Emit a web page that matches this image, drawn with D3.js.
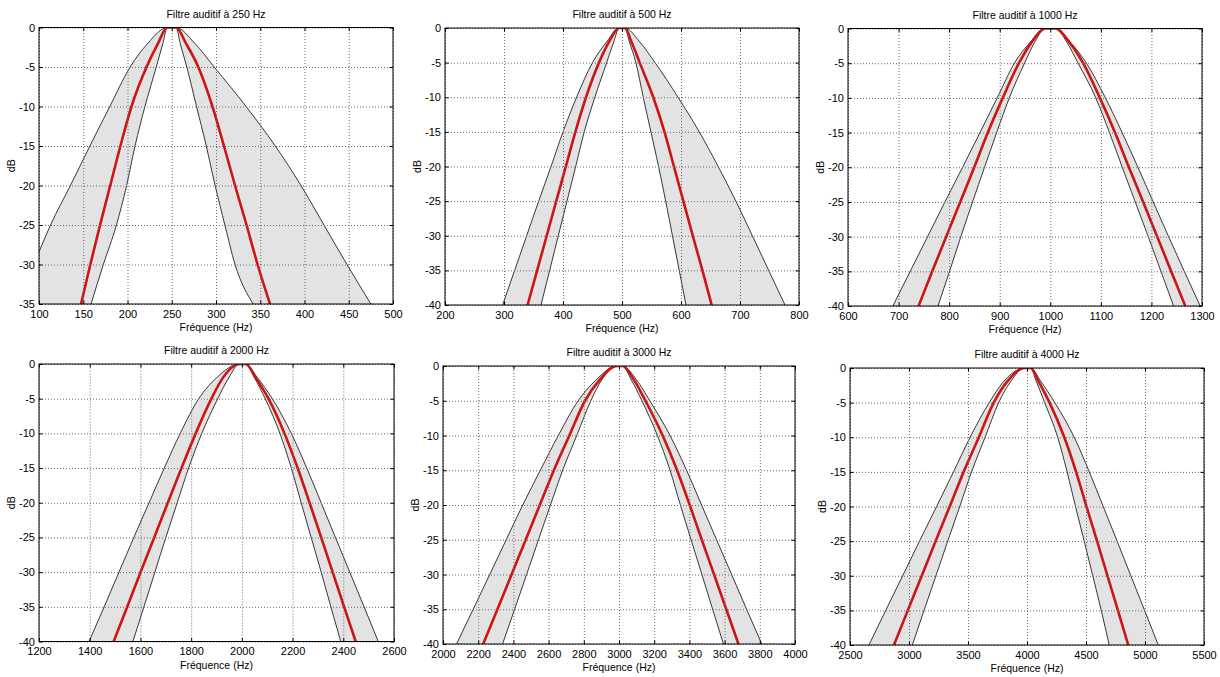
<!DOCTYPE html>
<html><head><meta charset="utf-8">
<script src="https://cdn.jsdelivr.net/npm/d3@7"></script>
<style>
body{margin:0;background:#fff}
svg{display:block}
text{font-family:"Liberation Sans",Arial,Helvetica,sans-serif;fill:#000}
</style>
</head><body>
<svg id="chart" width="1220" height="677"></svg>
<script>
// ---------------- DATA ----------------
const centerFreqs = [250, 500, 1000, 2000, 3000, 4000];
const titles = centerFreqs.map(c => "Filtre auditif à " + c + " Hz");
const xLabel = "Fréquence (Hz)";
const yLabel = "dB";

const xDomains = [[100, 500], [200, 800], [600, 1300], [1200, 2600], [2000, 4000], [2500, 5500]];
const yDomains = [[-35, 0], [-40, 0], [-40, 0], [-40, 0], [-40, 0], [-40, 0]];

const xTicks = [
  [100, 150, 200, 250, 300, 350, 400, 450, 500],
  [200, 300, 400, 500, 600, 700, 800],
  [600, 700, 800, 900, 1000, 1100, 1200, 1300],
  [1200, 1400, 1600, 1800, 2000, 2200, 2400, 2600],
  [2000, 2200, 2400, 2600, 2800, 3000, 3200, 3400, 3600, 3800, 4000],
  [2500, 3000, 3500, 4000, 4500, 5000, 5500]
];
const yTicks35 = [-35, -30, -25, -20, -15, -10, -5, 0];
const yTicks40 = [-40, -35, -30, -25, -20, -15, -10, -5, 0];

// [frequency Hz, level dB]
const outer250 = [[100,-28.4],[113,-25],[135.5,-20],[157.5,-15],[180,-10],[203,-5],[223,-2],[245,0],[255,0],[276,-2],[298,-5],[334,-10],[367,-15],[396,-20],[422,-25],[448,-30],[475,-35]];
const center250 = [[147.5,-35],[158,-30],[169,-25],[180.5,-20],[192,-15],[204.5,-10],[221.5,-5],[234.5,-2],[245,0],[255,0],[266,-2],[280,-5],[296,-10],[309,-15],[321.5,-20],[334.5,-25],[347,-30],[361,-35]];
const inner250 = [[158.8,-35],[172.7,-30],[187.5,-25],[199,-20],[208.5,-15],[219.7,-10],[232.5,-5],[240,-2],[245,0],[255,0],[259.5,-2],[267,-5],[278,-10],[289,-15],[299,-20],[310,-25],[321.5,-30],[342,-35]];

const outer500 = [[297.7,-40],[318,-35],[338.4,-30],[358.8,-25],[379.7,-20],[400,-15],[423,-10],[450,-5],[474,-2],[495,0],[505,0],[530,-2],[556,-5],[595,-10],[631,-15],[663,-20],[693,-25],[721,-30],[748.6,-35],[776.3,-40]];
const center500 = [[340,-40],[356.2,-35],[372.4,-30],[388.6,-25],[404.8,-20],[421,-15],[439,-10],[461,-5],[478,-2],[495,0],[505,0],[516,-2],[530,-5],[553,-10],[572,-15],[588,-20],[604,-25],[620,-30],[636.3,-35],[652,-40]];
const inner500 = [[362.7,-40],[377.4,-35],[392,-30],[406.8,-25],[421.5,-20],[436,-15],[454,-10],[474,-5],[486,-2],[495,0],[505,0],[512.5,-2],[523.5,-5],[536,-10],[549,-15],[562,-20],[574,-25],[585.5,-30],[597,-35],[608.5,-40]];

const outer1000 = [[688.8,-40],[723,-35],[757.3,-30],[791.6,-25],[826.6,-20],[861,-15],[895,-10],[929,-5],[960,-2],[990,0],[1010,0],[1040,-2],[1071.5,-5],[1109,-10],[1142,-15],[1173.3,-20],[1203.6,-25],[1234,-30],[1265,-35],[1296.5,-40]];
const center1000 = [[739.5,-40],[766.6,-35],[794.2,-30],[821.9,-25],[849.6,-20],[876.5,-15],[906,-10],[938,-5],[963,-2],[990,0],[1010,0],[1038,-2],[1065,-5],[1098,-10],[1128,-15],[1155.4,-20],[1183.7,-25],[1211.4,-30],[1239,-35],[1266.9,-40]];
const inner1000 = [[777.9,-40],[800.8,-35],[823.2,-30],[846.3,-25],[870,-20],[894,-15],[919,-10],[949,-5],[969,-2],[990,0],[1010,0],[1033,-2],[1055,-5],[1090,-10],[1117,-15],[1142.3,-20],[1168,-25],[1193.7,-30],[1218.8,-35],[1243.8,-40]];

const outer2000 = [[1397.4,-40],[1457,-35],[1515.4,-30],[1574,-25],[1634,-20],[1694,-15],[1757,-10],[1830,-5],[1900,-2],[1990,0],[2015,0],[2062,-2],[2120,-5],[2195,-10],[2256,-15],[2312.8,-20],[2369,-25],[2425.6,-30],[2482,-35],[2538,-40]];
const center2000 = [[1494.4,-40],[1548,-35],[1600.7,-30],[1654.4,-25],[1708,-20],[1762,-15],[1818,-10],[1880,-5],[1925,-2],[1990,0],[2015,0],[2055,-2],[2105,-5],[2168,-10],[2220,-15],[2267,-20],[2312.8,-25],[2358,-30],[2403.3,-35],[2449,-40]];
const inner2000 = [[1570.5,-40],[1613.8,-35],[1657,-30],[1700.3,-25],[1745,-20],[1790,-15],[1842,-10],[1905,-5],[1948,-2],[1990,0],[2015,0],[2050,-2],[2092,-5],[2150,-10],[2195,-15],[2234,-20],[2273.4,-25],[2312.8,-30],[2351,-35],[2390,-40]];

const outer3000 = [[2076.8,-40],[2171.6,-35],[2265.6,-30],[2359,-25],[2453,-20],[2553,-15],[2655,-10],[2768,-5],[2870,-2],[2985,0],[3020,0],[3100,-2],[3175,-5],[3290,-10],[3384,-15],[3469.2,-20],[3554.5,-25],[3640,-30],[3725,-35],[3811.4,-40]];
const center3000 = [[2228.4,-40],[2309.4,-35],[2389.6,-30],[2470,-25],[2550,-20],[2630,-15],[2718,-10],[2807,-5],[2890,-2],[2985,0],[3020,0],[3085,-2],[3150,-5],[3248,-10],[3330,-15],[3401.9,-20],[3470.3,-25],[3540,-30],[3609.5,-35],[3678.7,-40]];
const inner3000 = [[2338.4,-40],[2407,-35],[2474.9,-30],[2542.6,-25],[2610.4,-20],[2680,-15],[2760,-10],[2840,-5],[2902,-2],[2985,0],[3020,0],[3070,-2],[3130,-5],[3218,-10],[3290,-15],[3348.8,-20],[3409.5,-25],[3471,-30],[3532,-35],[3593.4,-40]];

const outer4000 = [[2660.6,-40],[2802.9,-35],[2946.3,-30],[3088.8,-25],[3233.6,-20],[3377,-15],[3518,-10],[3680,-5],[3800,-2],[3980,0],[4030,0],[4120,-2],[4236,-5],[4400,-10],[4528,-15],[4646,-20],[4763.8,-25],[4879.8,-30],[4996.6,-35],[5112.5,-40]];
const center4000 = [[2872.7,-40],[2990,-35],[3108.3,-30],[3225.4,-25],[3345,-20],[3463,-15],[3592,-10],[3718,-5],[3830,-2],[3980,0],[4030,0],[4100,-2],[4191,-5],[4316,-10],[4416,-15],[4504,-20],[4594,-25],[4681.9,-30],[4770.4,-35],[4858,-40]];
const inner4000 = [[3028.3,-40],[3127.3,-35],[3228.5,-30],[3328,-25],[3430,-20],[3530,-15],[3645,-10],[3760,-5],[3860,-2],[3980,0],[4030,0],[4080,-2],[4150,-5],[4260,-10],[4340,-15],[4411,-20],[4485,-25],[4557.4,-30],[4629,-35],[4696.8,-40]];

const outerCurves = [outer250, outer500, outer1000, outer2000, outer3000, outer4000];
const centerCurves = [center250, center500, center1000, center2000, center3000, center4000];
const innerCurves = [inner250, inner500, inner1000, inner2000, inner3000, inner4000];

// ---------------- LAYOUT ----------------
const boxes = [
  {l: 39, r: 393, t: 27.5, b: 304},
  {l: 445, r: 799, t: 28, b: 305},
  {l: 848, r: 1202, t: 28.5, b: 306},
  {l: 39, r: 394, t: 364, b: 641.5},
  {l: 443, r: 795, t: 366, b: 644},
  {l: 850, r: 1204, t: 368, b: 645}
];
const FILL = "#e3e3e3", RED = "#cc1515", GRID = "#6a6a6a";

const svg = d3.select("#chart");
svg.append("rect").attr("width", 1220).attr("height", 677).attr("fill", "#fff");

boxes.forEach((bx, i) => {
  const x = d3.scaleLinear().domain(xDomains[i]).range([bx.l, bx.r]);
  const y = d3.scaleLinear().domain(yDomains[i]).range([bx.b, bx.t]);
  const yMin = yDomains[i][0];
  const yT = yMin === -35 ? yTicks35 : yTicks40;
  const w = bx.r - bx.l, h = bx.b - bx.t;
  const g = svg.append("g");
  const cid = "clip" + i;
  g.append("clipPath").attr("id", cid).append("rect")
    .attr("x", bx.l).attr("y", bx.t).attr("width", w).attr("height", h);
  const plot = g.append("g").attr("clip-path", "url(#" + cid + ")");

  const area = d3.area().x(d => x(d[0])).y0(y(yMin)).y1(d => y(d[1])).curve(d3.curveMonotoneX);
  const line = d3.line().x(d => x(d[0])).y(d => y(d[1])).curve(d3.curveMonotoneX);

  plot.append("path").attr("d", area(outerCurves[i])).attr("fill", FILL);
  plot.append("path").attr("d", area(innerCurves[i])).attr("fill", "#fff");

  // grid
  const gx = g.append("g").attr("transform", `translate(0,${bx.b})`)
    .call(d3.axisBottom(x).tickValues(xTicks[i]).tickSize(-h).tickFormat(""));
  const gy = g.append("g").attr("transform", `translate(${bx.l},0)`)
    .call(d3.axisLeft(y).tickValues(yT).tickSize(-w).tickFormat(""));
  [gx, gy].forEach(a => {
    a.select(".domain").remove();
    a.selectAll("line").attr("stroke", GRID).attr("stroke-dasharray", "1,2").attr("stroke-width", 1);
  });

  plot.append("path").attr("d", line(outerCurves[i])).attr("fill", "none").attr("stroke", "#222").attr("stroke-width", 0.9);
  plot.append("path").attr("d", line(innerCurves[i])).attr("fill", "none").attr("stroke", "#222").attr("stroke-width", 0.9);
  plot.append("path").attr("d", line(centerCurves[i])).attr("fill", "none").attr("stroke", RED).attr("stroke-width", 2.6);

  // axes with labels and inward ticks
  const ax = g.append("g").attr("transform", `translate(0,${bx.b})`)
    .call(d3.axisBottom(x).tickValues(xTicks[i]).tickSize(-3.5).tickSizeOuter(0).tickPadding(6).tickFormat(d => String(d)));
  const ay = g.append("g").attr("transform", `translate(${bx.l},0)`)
    .call(d3.axisLeft(y).tickValues(yT).tickSize(-3.5).tickSizeOuter(0).tickPadding(4).tickFormat(d => String(d)));
  const at = g.append("g").attr("transform", `translate(0,${bx.t})`)
    .call(d3.axisTop(x).tickValues(xTicks[i]).tickSize(-3.5).tickSizeOuter(0).tickFormat(""));
  const ar = g.append("g").attr("transform", `translate(${bx.r},0)`)
    .call(d3.axisRight(y).tickValues(yT).tickSize(-3.5).tickSizeOuter(0).tickFormat(""));
  [ax, ay, at, ar].forEach(a => {
    a.select(".domain").remove();
    a.selectAll("line").attr("stroke", "#000");
    a.selectAll("text").attr("font-size", "11px").attr("font-family", '"Liberation Sans", Arial, sans-serif').attr("fill", "#000");
    a.attr("font-family", null).attr("font-size", null);
  });

  g.append("rect").attr("x", bx.l).attr("y", bx.t).attr("width", w).attr("height", h)
    .attr("fill", "none").attr("stroke", "#000").attr("stroke-width", 1);

  g.append("text").attr("x", (bx.l + bx.r) / 2).attr("y", bx.t - 10)
    .attr("text-anchor", "middle").attr("font-size", "10.5px").text(titles[i]);
  g.append("text").attr("x", (bx.l + bx.r) / 2).attr("y", bx.b + 27)
    .attr("text-anchor", "middle").attr("font-size", "10.5px").text(xLabel);
  g.append("text").attr("transform", `translate(${bx.l - 24},${(bx.t + bx.b) / 2}) rotate(-90)`)
    .attr("text-anchor", "middle").attr("font-size", "10.5px").text(yLabel);
});
</script>
</body></html>
